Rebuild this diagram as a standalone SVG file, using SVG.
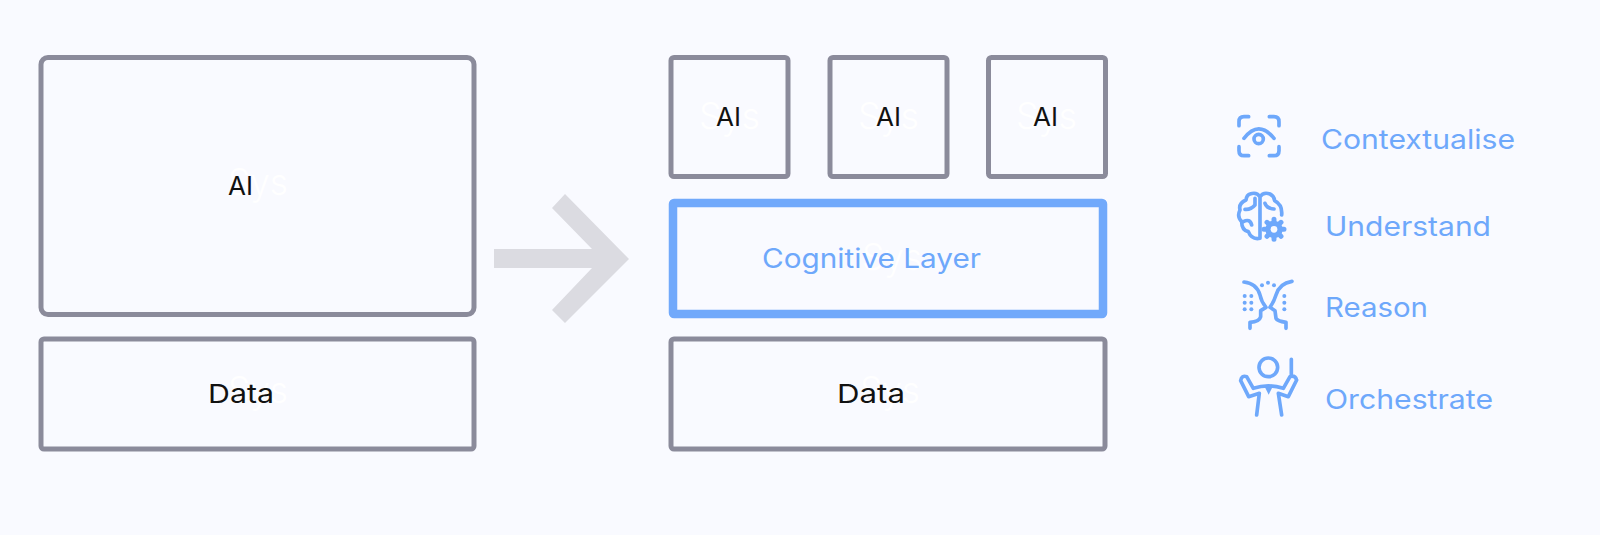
<svg xmlns="http://www.w3.org/2000/svg" width="1600" height="535" viewBox="0 0 1600 535">
<style>
.box{fill:none;stroke:#8b8b9b;stroke-width:5}
.cog{fill:none;stroke:#71a9fb;stroke-width:8.5}
text{font-family:Inter,"Liberation Sans",sans-serif}
.lb{font-size:26px;fill:#111;font-weight:400}
.gh{font-size:37px;fill:#fff;font-weight:300}
.bl{font-size:27px;fill:#6ea8fb;font-weight:400}
.ic{fill:none;stroke:#6ea8fb;stroke-width:11;stroke-linecap:round;stroke-linejoin:round}
.f{fill:#6ea8fb}
</style>
<rect width="1600" height="535" fill="#f9faff"/>
<g id="connectors">
<path d="M494 249H592L552 208L565 194L629 259L565 323L552 310L592 268H494Z" fill="#dbdbe1"/>
</g>
<g id="left-ai"><rect class="box" x="41" y="57.500" width="433" height="257" rx="7"/><text class="gh" x="228" y="195" textLength="60" lengthAdjust="spacingAndGlyphs">Sys</text><text class="lb" x="228" y="195" textLength="25" lengthAdjust="spacingAndGlyphs">AI</text></g>
<g id="left-data"><rect class="box" x="41" y="339" width="433" height="110" rx="3"/><text class="gh" x="228" y="403" textLength="60" lengthAdjust="spacingAndGlyphs">Sys</text><text class="lb" x="208" y="403" textLength="66" lengthAdjust="spacingAndGlyphs">Data</text></g>
<g id="ai-1"><rect class="box" x="671" y="57.500" width="117" height="119" rx="3"/><text class="gh" x="699" y="129" textLength="61" lengthAdjust="spacingAndGlyphs">Sys</text><text class="lb" x="716" y="126" textLength="25" lengthAdjust="spacingAndGlyphs">AI</text></g>
<g id="ai-2"><rect class="box" x="830" y="57.500" width="117" height="119" rx="3"/><text class="gh" x="858" y="129" textLength="61" lengthAdjust="spacingAndGlyphs">Sys</text><text class="lb" x="876" y="126" textLength="25" lengthAdjust="spacingAndGlyphs">AI</text></g>
<g id="ai-3"><rect class="box" x="988.500" y="57.500" width="117" height="119" rx="3"/><text class="gh" x="1016" y="129" textLength="61" lengthAdjust="spacingAndGlyphs">Sys</text><text class="lb" x="1033" y="126" textLength="25" lengthAdjust="spacingAndGlyphs">AI</text></g>
<g id="cognitive"><rect class="cog" x="673" y="203" width="430" height="111" rx="1"/><text class="gh" x="862" y="270" textLength="60" lengthAdjust="spacingAndGlyphs">Sys</text><text class="bl" x="762" y="268" textLength="219" lengthAdjust="spacingAndGlyphs">Cognitive Layer</text></g>
<g id="right-data"><rect class="box" x="671" y="339" width="434" height="110" rx="3"/><text class="gh" x="860" y="403" textLength="60" lengthAdjust="spacingAndGlyphs">Sys</text><text class="lb" x="837" y="403" textLength="68" lengthAdjust="spacingAndGlyphs">Data</text></g>
<g id="contextualise">
<g transform="translate(1200 90) scale(.3333)"><path class="ic" d="M117 107V95Q117 80 132 80H146M208 80H222Q237 80 237 95V107M117 170V182Q117 197 132 197H146M208 197H222Q237 197 237 182V170M132 145Q176 88 222 145"/><circle class="ic" cx="176" cy="147" r="14"/></g>
<text class="bl" x="1321" y="149" textLength="194" lengthAdjust="spacingAndGlyphs">Contextualise</text></g>
<g id="understand">
<g transform="translate(1200 90) scale(.3333)"><path class="ic" d="M180 320Q170 305 150 312Q140 315 138 330Q115 340 120 360Q110 380 125 395Q125 420 145 425Q155 450 180 445V320Q190 305 210 312Q222 318 224 332Q248 345 245 375M135 358Q152 360 165 345V325M130 395Q150 385 155 405M195 340Q200 355 222 357"/><g stroke="#6ea8fb" stroke-width="15" stroke-linecap="round"><path d="M222 388V448M192 418H252M201 397L243 439M243 397L201 439"/></g><circle class="f" cx="222" cy="418" r="26"/><circle cx="222" cy="418" r="10" fill="#f9faff"/></g>
<text class="bl" x="1325" y="236" textLength="166" lengthAdjust="spacingAndGlyphs">Understand</text></g>
<g id="reason">
<g transform="translate(1200 260) scale(.3333)"><path class="ic" d="M132 66Q170 70 180 105Q184 125 198 142L182 152V170Q178 185 150 187V205M276 64Q238 70 228 105Q222 125 210 142L225 152L228 175Q232 183 258 187V205"/><g class="f"><circle cx="186" cy="76" r="6"/><circle cx="204" cy="68" r="6"/><circle cx="222" cy="76" r="6"/><circle cx="134" cy="108" r="6"/><circle cx="154" cy="108" r="6"/><circle cx="134" cy="128" r="6"/><circle cx="154" cy="128" r="6"/><circle cx="134" cy="148" r="6"/><circle cx="154" cy="148" r="6"/><circle cx="253" cy="108" r="6"/><circle cx="253" cy="128" r="6"/><circle cx="253" cy="148" r="6"/></g></g>
<text class="bl" x="1325" y="317" textLength="103" lengthAdjust="spacingAndGlyphs">Reason</text></g>
<g id="orchestrate">
<g transform="translate(1200 260) scale(.3333)"><circle class="ic" cx="205" cy="322" r="28"/><path class="ic" d="M170 465L178 400L146 410L122 362Q125 345 140 350L160 385Q205 370 250 385L270 350Q285 345 290 360L265 410L235 400L245 465M274 298V345"/><path class="f" d="M193 378H219L206 404Z"/></g>
<text class="bl" x="1325" y="409" textLength="168" lengthAdjust="spacingAndGlyphs">Orchestrate</text></g>
</svg>
